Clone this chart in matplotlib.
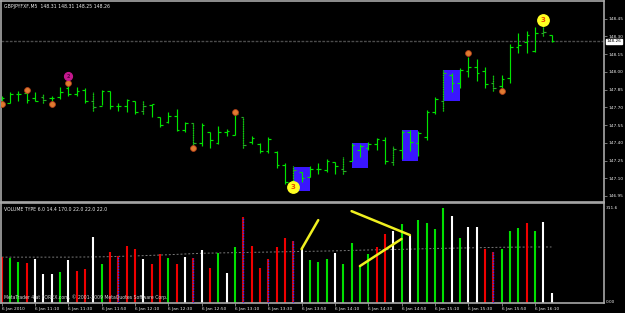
import matplotlib
matplotlib.use("Agg")
import matplotlib.pyplot as plt
import matplotlib.transforms as mtransforms
import numpy as np

# --- data (GBPJPY M5, 6 Jan 2010, 10:50 .. 16:20) ---
symbol = "GBPJPYFXF,M5"
last_ohlc = [148.31, 148.31, 148.25, 148.26]

opens = [147.74, 147.74, 147.81, 147.82, 147.78, 147.79, 147.78, 147.79, 147.86, 147.81,
         147.85, 147.75, 147.71, 147.84, 147.71, 147.71, 147.75, 147.67, 147.72, 147.62,
         147.58, 147.63, 147.51, 147.57, 147.40, 147.49, 147.40, 147.49, 147.47, 147.62,
         147.41, 147.39, 147.33, 147.32, 147.21, 147.08, 147.15, 147.11, 147.18, 147.17,
         147.24, 147.18, 147.25, 147.34, 147.36, 147.39, 147.42, 147.24, 147.34, 147.49,
         147.40, 147.45, 147.66, 147.75, 147.97, 147.91, 148.01, 148.04, 148.01, 147.91,
         147.88, 147.95, 148.21, 148.25, 148.18, 148.33, 148.31]
highs = [147.80, 147.83, 147.84, 147.86, 147.83, 147.81, 147.80, 147.87, 147.94, 147.87,
         147.86, 147.83, 147.85, 147.84, 147.74, 147.77, 147.75, 147.75, 147.73, 147.62,
         147.66, 147.69, 147.58, 147.57, 147.57, 147.49, 147.54, 147.52, 147.65, 147.62,
         147.46, 147.40, 147.45, 147.33, 147.23, 147.20, 147.15, 147.20, 147.23, 147.26,
         147.24, 147.28, 147.40, 147.39, 147.41, 147.44, 147.45, 147.37, 147.51, 147.51,
         147.50, 147.68, 147.79, 148.02, 147.99, 148.03, 148.13, 148.11, 148.04, 147.97,
         147.97, 148.24, 148.33, 148.35, 148.38, 148.44, 148.31]
lows = [147.72, 147.74, 147.75, 147.74, 147.75, 147.74, 147.75, 147.77, 147.80, 147.80,
        147.74, 147.67, 147.72, 147.69, 147.67, 147.66, 147.64, 147.64, 147.62, 147.53,
        147.57, 147.50, 147.49, 147.38, 147.37, 147.36, 147.39, 147.46, 147.47, 147.36,
        147.39, 147.31, 147.31, 147.19, 147.05, 147.06, 147.07, 147.11, 147.14, 147.15,
        147.14, 147.14, 147.25, 147.28, 147.34, 147.34, 147.22, 147.21, 147.26, 147.33,
        147.29, 147.42, 147.64, 147.67, 147.83, 147.86, 147.96, 147.92, 147.86, 147.84,
        147.86, 147.91, 148.16, 148.16, 148.17, 148.30, 148.25]
closes = [147.78, 147.81, 147.81, 147.76, 147.75, 147.76, 147.78, 147.83, 147.81, 147.84,
          147.75, 147.70, 147.84, 147.71, 147.71, 147.76, 147.66, 147.71, 147.73, 147.55,
          147.63, 147.51, 147.57, 147.40, 147.55, 147.42, 147.49, 147.50, 147.64, 147.38,
          147.44, 147.33, 147.43, 147.21, 147.07, 147.17, 147.10, 147.18, 147.18, 147.25,
          147.20, 147.16, 147.38, 147.37, 147.39, 147.43, 147.25, 147.35, 147.49, 147.41,
          147.48, 147.66, 147.77, 147.99, 147.91, 148.02, 148.04, 147.99, 147.90, 147.86,
          147.94, 148.21, 148.23, 148.31, 148.33, 148.34, 148.26]

volumes = [147, 144, 131, 127, 141, 90, 90, 97, 137, 100,
           107, 214, 124, 164, 151, 184, 174, 141, 124, 157,
           144, 124, 147, 144, 171, 111, 161, 94, 181, 281,
           184, 111, 141, 181, 211, 201, 174, 137, 131, 141,
           161, 124, 194, 114, 157, 181, 224, 234, 258, 221,
           271, 261, 241, 311.6, 285, 211, 248, 248, 174, 164,
           174, 234, 245, 261, 234, 265, 27]
vol_types = ("rggrwwwgwr" "rwgrprrwrr" "grwpwrgwgp" "rrprrpwggg"
             "wggggrrwgw" "ggggwgwwrp" "gggrgww")

avg_bars = [0, 8, 12, 16, 20, 24, 28, 32, 36, 40, 44, 48, 52, 56, 60, 64, 66]
avg_vals = [147, 147, 148, 151, 155, 160, 162, 164, 166, 168, 171, 173, 176, 178, 180, 181, 181]

time_labels = ["6 Jan 2010", "6 Jan 11:10", "6 Jan 11:30", "6 Jan 11:50", "6 Jan 12:10",
               "6 Jan 12:30", "6 Jan 12:50", "6 Jan 13:10", "6 Jan 13:30", "6 Jan 13:50",
               "6 Jan 14:10", "6 Jan 14:30", "6 Jan 14:50", "6 Jan 15:10", "6 Jan 15:30",
               "6 Jan 15:50", "6 Jan 16:10"]

# blue boxes: start bar, end bar, top, bottom
box_start = [35, 42, 48, 53]
box_end = [37, 44, 50, 55]
box_top = [147.195, 147.40, 147.51, 148.02]
box_bottom = [146.99, 147.19, 147.25, 147.75]

fractal_bars = [0, 3, 6, 8, 23, 28, 56, 60]
fractal_prices = [147.73, 147.85, 147.73, 147.91, 147.36, 147.66, 148.16, 147.84]
wave2_bars, wave2_prices = [8], [147.965]
wave3_bars, wave3_prices = [35, 65], [147.026, 148.44]

trend_start_bar = [36, 42, 43]
trend_start_vol = [174, 301, 117]
trend_end_bar = [38, 49, 48]
trend_end_vol = [271, 221, 208]

price_ticks = [146.95, 147.10, 147.25, 147.40, 147.55, 147.70, 147.85, 148.00, 148.15, 148.30, 148.45]

# --- figure ---
fig = plt.figure(figsize=(6.25, 3.13), dpi=100, facecolor="black")
ax1 = fig.add_axes([0.0008, 0.3562, 0.9656, 0.6406], facecolor="black")
ax2 = fig.add_axes([0.0008, 0.0319, 0.9656, 0.3195], facecolor="black")

txt = "#eeeeee"
frame = "#a8a8a8"
fs = 3.1
for ax in (ax1, ax2):
    ax.set_xlim(-0.14, 72.3)
    for s in ax.spines.values():
        s.set_color(frame)
        s.set_linewidth(1.2)
    ax.yaxis.tick_right()
    ax.tick_params(axis="y", colors=frame, labelcolor=txt, labelsize=fs, length=2, width=0.5, pad=1.5)

x = np.arange(len(opens))
dotted = set(range(5, len(opens), 6))

# blue boxes
for s, e, t, b in zip(box_start, box_end, box_top, box_bottom):
    ax1.fill_between([s, e], b, t, color="#3a16ff", lw=0, zorder=1)

# OHLC bars
lime = "#00e400"
for i in x:
    if i in dotted:
        ax1.vlines(i, lows[i], highs[i], color="#1e6e1e", lw=0.85, zorder=2)
        ax1.vlines(i, lows[i], highs[i], color=lime, lw=0.85, linestyles=(0, (1, 1)), zorder=3)
        c = "#2aa82a"
    else:
        ax1.vlines(i, lows[i], highs[i], color=lime, lw=0.85, zorder=3)
        c = lime
    ax1.hlines(opens[i], i - 0.32, i, color=c, lw=0.85, zorder=3)
    ax1.hlines(closes[i], i, i + 0.32, color=c, lw=0.85, zorder=3)

# current price line and label
ax1.axhline(last_ohlc[3], color="#4c4c4c", lw=1.0, ls=(0, (2, 1)), zorder=0)
trans = mtransforms.blended_transform_factory(ax1.transAxes, ax1.transData)
ax1.text(1.004, last_ohlc[3], f"{last_ohlc[3]:.2f}", transform=trans, fontsize=fs,
         color="black", va="center", ha="left",
         bbox=dict(facecolor="white", edgecolor="white", pad=0.4), zorder=6, clip_on=False)

# markers
ax1.plot(fractal_bars, fractal_prices, "o", ms=4.2, mfc="#e07a30", mec="#b0401a", mew=0.6, zorder=5)
ax1.plot(wave2_bars, wave2_prices, "o", ms=5.6, mfc="#c4188e", mec="#c4188e", zorder=5)
for b, p in zip(wave2_bars, wave2_prices):
    ax1.text(b, p, "2", fontsize=3.6, color="#5a0044", ha="center", va="center", weight="bold", zorder=6)
ax1.plot(wave3_bars, wave3_prices, "o", ms=8.2, mfc="#ffff22", mec="#ffff22", zorder=5)
for b, p in zip(wave3_bars, wave3_prices):
    ax1.text(b, p, "3", fontsize=5, color="#e84a00", ha="center", va="center", weight="bold", zorder=6)

ax1.set_ylim(146.903, 148.600)
ax1.set_yticks(price_ticks)
ax1.set_yticklabels([f"{t:.2f}" for t in price_ticks])
ax1.set_xticks([])
ax1.text(0.005, 0.985, f"{symbol}  " + " ".join(f"{v:.2f}" for v in last_ohlc),
         transform=ax1.transAxes, fontsize=3.3, color=txt, va="top", ha="left")

# volume panel
vmin = -6.7
colors = {"r": "#f00000", "g": "#00e000", "w": "#ffffff", "p": "#e00000"}
for i, (v, t) in enumerate(zip(volumes, vol_types)):
    ax2.vlines(i, vmin, v, color=colors[t], lw=1.5, zorder=2)
    if t == "p":
        ax2.vlines(i, vmin, v, color="#3030ff", lw=1.0, linestyles=(0, (1, 1)), zorder=3)
ax2.plot(avg_bars, avg_vals, color="#7a7a7a", lw=0.7, ls=(0, (2, 2)), zorder=1)
for xs, ys, xe, ye in zip(trend_start_bar, trend_start_vol, trend_end_bar, trend_end_vol):
    ax2.plot([xs, xe], [ys, ye], color="#f0f020", lw=1.8, solid_capstyle="round", zorder=4)

ax2.set_ylim(vmin, 328.3)
ax2.set_yticks([0, max(volumes)])
ax2.set_yticklabels(["0.00", f"{max(volumes):.1f}"])
ax2.tick_params(axis="y", length=0)
ax2.text(0.005, 0.96, "VOLUME TYPE 6.0 14.4 170.0 22.0 22.0 22.0",
         transform=ax2.transAxes, fontsize=3.3, color=txt, va="top", ha="left")
ax2.text(0.005, 0.06, "MetaTrader 4 at FOREX.com, \u00a9 2001-2009 MetaQuotes Software Corp.",
         transform=ax2.transAxes, fontsize=3.3, color="#d8d8d8", va="center", ha="left", zorder=5)

tick_bars = list(range(0, 4 * len(time_labels), 4))
ax2.set_xticks(tick_bars)
ax2.set_xticklabels(time_labels)
ax2.tick_params(axis="x", colors=frame, labelcolor=txt, labelsize=fs, length=2, width=0.5, pad=1)
for lab in ax2.get_xticklabels():
    lab.set_ha("left")

fig.savefig("out.png", dpi=100, facecolor="black")
